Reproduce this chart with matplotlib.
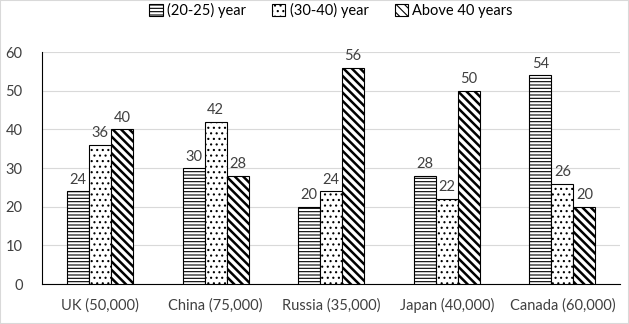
import matplotlib
matplotlib.use("Agg")
import matplotlib.pyplot as plt
import numpy as np

plt.rcParams['font.family'] = ['Lato', 'DejaVu Sans']
plt.rcParams['hatch.linewidth'] = 0.8

countries = ["UK (50,000)", "China (75,000)", "Russia (35,000)", "Japan (40,000)", "Canada (60,000)"]
age_20_25 = [24, 30, 20, 28, 54]
age_30_40 = [36, 42, 24, 22, 26]
above_40 = [40, 28, 56, 50, 20]
series_names = ["(20-25) year", "(30-40) year", "Above 40 years"]

fig = plt.figure(figsize=(6.29, 3.24), dpi=100)
ax = fig.add_axes([0.067, 0.123, 0.919, 0.716])

x = np.arange(len(countries))
w = 0.19
hatches = ['-----', '...', '\\\\\\\\']
for i, (vals, h, name) in enumerate(zip([age_20_25, age_30_40, above_40], hatches, series_names)):
    bars = ax.bar(x + (i - 1) * w, vals, w, color='white', edgecolor='black',
                  hatch=h, linewidth=0.8, label=name, zorder=3)
    if i == 2:
        for b in bars:
            b.set_hatch_linewidth(1.8)
    for xi, v in zip(x + (i - 1) * w, vals):
        ax.text(xi, v + 1.2, str(v), ha='center', va='bottom', fontsize=10.5, color='#404040')

ax.set_ylim(0, 60)
ax.set_xlim(-0.5, len(countries) - 0.5)
ax.set_yticks(range(0, 61, 10))
ax.set_xticks(x)
ax.set_xticklabels(countries)
ax.tick_params(length=0, labelsize=10.5, colors='#404040')
ax.tick_params(axis='x', pad=10)
ax.tick_params(axis='y', pad=14)
ax.grid(axis='y', color='#d9d9d9', linewidth=0.8, zorder=0)
for s in ['top', 'right']:
    ax.spines[s].set_visible(False)
ax.spines['left'].set_color('black')
ax.spines['bottom'].set_color('black')

ax.legend(loc='upper center', bbox_to_anchor=(0.5, 1.27), ncol=3, frameon=False,
          fontsize=10.5, handlelength=0.9, handleheight=0.9, handletextpad=0.3, columnspacing=1.8)

fig.patches.append(plt.Rectangle((0, 0), 1, 1, transform=fig.transFigure, fill=False,
                                 edgecolor='#d9d9d9', linewidth=1.5))
fig.savefig("out.png", dpi=100)
